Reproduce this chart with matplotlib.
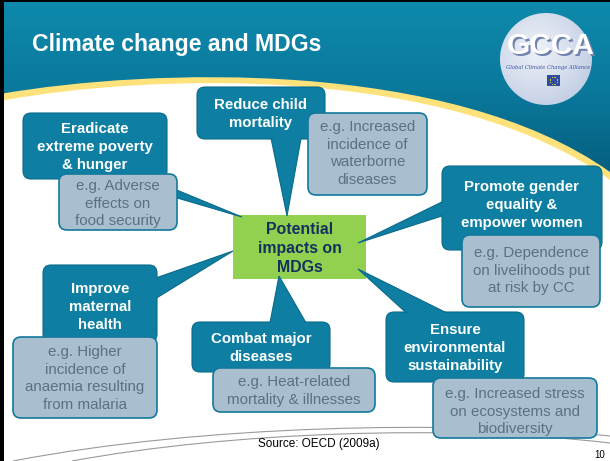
import matplotlib.pyplot as plt
import numpy as np
from matplotlib.patches import FancyBboxPatch, Polygon, PathPatch, Circle, Rectangle
from matplotlib.path import Path
from matplotlib.colors import LinearSegmentedColormap

plt.rcParams['font.family'] = ['Liberation Sans', 'DejaVu Sans']

# slide content
title = 'Climate change and MDGs'
centre_lines = ['Potential', 'impacts on', 'MDGs']
goals = [['Eradicate', 'extreme poverty', '& hunger'],
         ['Reduce child', 'mortality'],
         ['Promote gender', 'equality &', 'empower women'],
         ['Improve', 'maternal', 'health'],
         ['Combat major', 'diseases'],
         ['Ensure', 'environmental', 'sustainability']]
impacts = [['e.g. Adverse', 'effects on', 'food security'],
           ['e.g. Increased', 'incidence of', 'waterborne', 'diseases'],
           ['e.g. Dependence', 'on livelihoods put', 'at risk by CC'],
           ['e.g. Higher', 'incidence of', 'anaemia resulting', 'from malaria'],
           ['e.g. Heat-related', 'mortality & illnesses'],
           ['e.g. Increased stress', 'on ecosystems and', 'biodiversity']]
logo_text = 'GCCA'
logo_sub = 'Global Climate Change Alliance'
source = 'Source: OECD (2009a)'
page = '10'

# layout in pixels (x0, y0, x1, y1), y downwards
goal_boxes = [(23, 113, 167, 179), (197, 87, 325, 139), (442, 166, 602, 250),
              (43, 265, 157, 342), (192, 322, 330, 372), (386, 312, 524, 382)]
goal_text_y = [129, 105, 187, 289, 339, 330]
impact_boxes = [(59, 174, 177, 230), (308, 113, 427, 195), (462, 235, 600, 307),
                (13, 337, 157, 418), (213, 368, 375, 412), (433, 378, 597, 438)]
impact_text_y = [186, 127, 253, 352, 382, 394]
pointers = [[(150, 179), (242, 217), (150, 190)],
            [(270, 133), (287, 216), (302, 133)],
            [(448, 199), (358, 243), (448, 214)],
            [(150, 280), (233, 251), (150, 302)],
            [(269, 328), (279, 276), (309, 328)],
            [(412, 318), (358, 269), (457, 318)]]

TEAL = '#0E7FA2'
TEAL_EDGE = '#0A6A89'
GREY = '#A9BFD0'
GREY_EDGE = '#12799C'
GREY_TEXT = '#5C7084'

fig = plt.figure(figsize=(6.1, 4.61), dpi=100)
ax = fig.add_axes([0, 0, 1, 1])
ax.set_xlim(0, 610)
ax.set_ylim(461, 0)
ax.axis('off')

# header band with curved lower edge
def band(p0, p1, p2, p3):
    verts = [(0, 0), (610, 0), p3, p2, p1, p0, (0, 0)]
    codes = [Path.MOVETO, Path.LINETO, Path.LINETO, Path.CURVE4, Path.CURVE4,
             Path.CURVE4, Path.CLOSEPOLY]
    return Path(verts, codes)

yellow = PathPatch(band((0, 101), (150, 73), (450, 64), (610, 180)),
                   facecolor='#FDE27C', edgecolor='none', zorder=0.5)
ax.add_patch(yellow)
head = PathPatch(band((0, 94), (150, 68), (450, 58), (610, 172)),
                 facecolor='none', edgecolor='none', zorder=0.6)
ax.add_patch(head)
grad = np.linspace(0, 1, 200).reshape(-1, 1)
cmap = LinearSegmentedColormap.from_list('hd', ['#0E8AAC', '#0A789B', '#05597A'])
im = ax.imshow(grad, cmap=cmap, extent=(0, 610, 190, 0), aspect='auto', zorder=0.7)
im.set_clip_path(head)

ax.text(32, 45, title, color='white', fontsize=16.6, fontweight='bold',
        ha='left', va='center', zorder=3)

# logo
disc = Circle((546, 59), 46, facecolor='none', edgecolor='none', zorder=1)
ax.add_patch(disc)
yy, xx = np.mgrid[0:100, 0:100]
rr = np.hypot(xx - 40, yy - 40) / 70.0
lcmap = LinearSegmentedColormap.from_list('lg', ['#EEF2F8', '#D3DCEC', '#B4C2DB'])
lim = ax.imshow(rr, cmap=lcmap, extent=(500, 592, 105, 13), aspect='auto', zorder=1.1)
lim.set_clip_path(disc)
ax.text(552.5, 47.5, logo_text, color='#7083AE', fontsize=21.5, fontweight='bold',
        ha='center', va='center', zorder=1.2)
ax.text(551, 46, logo_text, color='white', fontsize=21.5, fontweight='bold',
        ha='center', va='center', zorder=1.3)
ax.text(548, 67, logo_sub, color='#3A4FA0', fontsize=3.8, style='italic',
        family='DejaVu Serif', ha='center', va='center', zorder=1.3)
ax.add_patch(Rectangle((547, 75), 13, 11, facecolor='#2E4D9F', edgecolor='none', zorder=1.3))
ang = np.linspace(0, 2 * np.pi, 12, endpoint=False)
ax.scatter(553.5 + 3.6 * np.cos(ang), 80.5 + 3.6 * np.sin(ang), s=0.6,
           color='#F2D230', zorder=1.4, linewidths=0)

# centre box
ax.add_patch(Rectangle((233, 215), 133, 64, facecolor='#92D050', edgecolor='none', zorder=1))
for i, line in enumerate(centre_lines):
    ax.text(300, 229 + 19 * i, line, color='#14305F', fontsize=11.4,
            fontweight='bold', ha='center', va='center', zorder=9)

def rbox(b, fc, ec, lw, z, r=8):
    x0, y0, x1, y1 = b
    p = FancyBboxPatch((x0, y0), x1 - x0, y1 - y0,
                       boxstyle='round,pad=0,rounding_size=%g' % r,
                       facecolor=fc, edgecolor=ec, linewidth=lw, zorder=z)
    ax.add_patch(p)

for b, pts, lines, ty in zip(goal_boxes, pointers, goals, goal_text_y):
    rbox(b, TEAL, TEAL_EDGE, 0.8, 2)
    ax.add_patch(Polygon(pts, closed=True, facecolor=TEAL, edgecolor=TEAL_EDGE,
                         linewidth=0.8, zorder=3))
    x0, y0, x1, y1 = b
    rbox((x0 + 1, y0 + 1, x1 - 1, y1 - 1), TEAL, 'none', 0, 4, r=7)
    cx = (x0 + x1) / 2
    for i, line in enumerate(lines):
        ax.text(cx, ty + 18.2 * i, line, color='white', fontsize=10.8,
                fontweight='bold', ha='center', va='center', zorder=5)

for b, lines, ty in zip(impact_boxes, impacts, impact_text_y):
    rbox(b, GREY, GREY_EDGE, 1.2, 6)
    cx = (b[0] + b[2]) / 2
    for i, line in enumerate(lines):
        ax.text(cx, ty + 17.7 * i, line, color=GREY_TEXT, fontsize=10.9,
                ha='center', va='center', zorder=7)

# footer swooshes
for p in [[(13, 461), (200, 425), (450, 420), (610, 436)],
          [(72, 461), (230, 432), (450, 424), (610, 443)]]:
    ax.add_patch(PathPatch(Path(p, [Path.MOVETO, Path.CURVE4, Path.CURVE4, Path.CURVE4]),
                           facecolor='none', edgecolor='#9A9A9A', linewidth=0.8, zorder=0.5))
ax.text(319, 444, source, fontsize=8.5, color='black', ha='center', va='center', zorder=8)
ax.text(600, 455, page, fontsize=7, color='black', ha='center', va='center', zorder=8)

# slide frame
ax.add_patch(Rectangle((0, 0), 4, 461, facecolor='black', edgecolor='none', zorder=10))
ax.add_patch(Rectangle((0, 0), 610, 2.5, facecolor='black', edgecolor='none', zorder=10))

fig.savefig('out.png', dpi=100)
